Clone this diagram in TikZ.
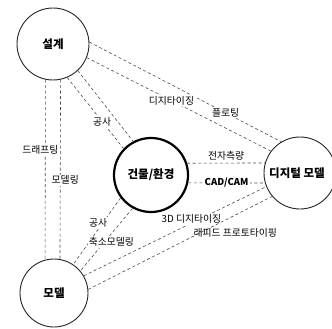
\documentclass[tikz,border=0pt]{standalone}
\usepackage{fontspec}
\setmainfont{Noto Sans CJK KR}
\begin{document}
\begin{tikzpicture}[x=1pt,y=-1pt,
  place/.style={circle, draw=black!85, line width=0.9pt, inner sep=0pt,
    font=\fontsize{11.5}{13}\selectfont\bfseries},
  conn/.style={draw=black!70, line width=0.6pt, dash pattern=on 3pt off 2.5pt},
  lbl/.style={fill=white, inner sep=1pt, font=\fontsize{9.8}{11}\selectfont}]
\clip (0,0) rectangle (332,329);
\fill[white] (0,0) rectangle (332,329);

\node[place, minimum size=72pt] (s) at (53,44) {설계};
\node[place, minimum size=68pt] (m) at (54,293) {모델};
\node[place, minimum size=74pt, line width=2.2pt, draw=black] (b) at (151,175) {건물/환경};
\node[place, minimum size=72pt] (d) at (300,173) {\hspace*{-6pt}디지털 모델};

% design - digital model
\draw[conn] (s.3) -- node[lbl, pos=0.71] {플로팅} (d.121);
\draw[conn] (s.-22) -- node[lbl, pos=0.46] {디지타이징} (d.143);
% design - building
\draw[conn] (s.-67) -- node[lbl, pos=0.62] {공사} (b.136);
\draw[conn] (s.-47) -- (b.118);
% design - model
\draw[conn] (s.-102) -- node[lbl, pos=0.39, xshift=-5pt] {드래프팅} (m.105);
\draw[conn] (s.-78) -- node[lbl, pos=0.56, xshift=5pt] {모델링} (m.80);
% building - model
\draw[conn] (b.-143) -- node[lbl, pos=0.37, xshift=-5pt] {공사} (m.56);
\draw[conn] (b.-119) -- node[lbl, pos=0.54, xshift=7pt] {축소모델링} (m.40);
% building - digital model
\draw[conn] (b.18) -- node[lbl, pos=0.5, above=2pt, fill=none] {전자측량} (d.164);
\draw[conn] (b.-12) -- node[lbl, pos=0.5, font=\fontsize{9.5}{10}\selectfont\bfseries] {CAD/CAM} (d.-164);
% model - digital model
\draw[conn] (m.30) -- node[lbl, pos=0.59, yshift=4pt] {3D 디지타이징} (d.-158);
\draw[conn] (m.6) -- node[lbl, pos=0.8, yshift=-18pt, fill=none] {래피드 프로토타이핑} (d.-140);
\end{tikzpicture}
\end{document}
